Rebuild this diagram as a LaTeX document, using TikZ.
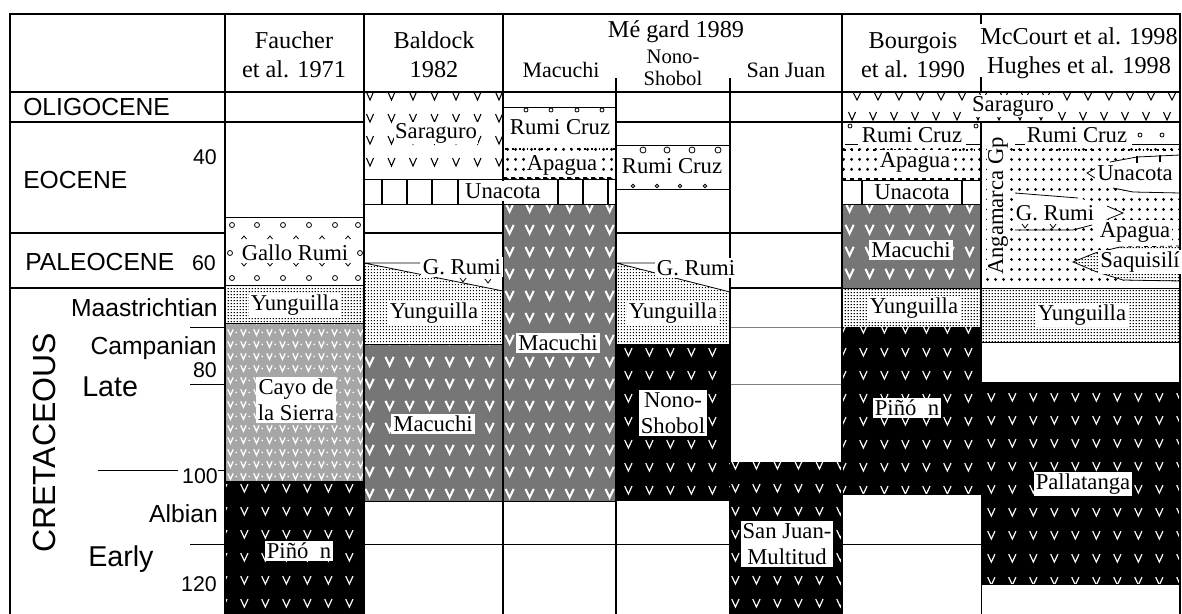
\documentclass[tikz,border=0pt]{standalone}
\usepackage{fontspec}
\setmainfont{Liberation Serif}
\newfontfamily\arial{Liberation Sans}
\usetikzlibrary{patterns}

\definecolor{macgray}{RGB}{118,118,118}
\definecolor{cayogray}{RGB}{166,166,166}

\pgfdeclarepatternformonly{vees}{\pgfqpoint{0pt}{0pt}}{\pgfqpoint{15pt}{16.5pt}}{\pgfqpoint{15pt}{16.5pt}}
{\pgfsetlinewidth{1.6pt}
 \pgfpathmoveto{\pgfqpoint{4.3pt}{11.8pt}}
 \pgfpathlineto{\pgfqpoint{7.5pt}{5pt}}
 \pgfpathlineto{\pgfqpoint{10.7pt}{11.8pt}}
 \pgfusepath{stroke}}
\pgfdeclarepatternformonly{thinvees}{\pgfqpoint{0pt}{0pt}}{\pgfqpoint{16pt}{17pt}}{\pgfqpoint{16pt}{17pt}}
{\pgfsetlinewidth{0.9pt}
 \pgfpathmoveto{\pgfqpoint{5.2pt}{11.3pt}}
 \pgfpathlineto{\pgfqpoint{8pt}{5.3pt}}
 \pgfpathlineto{\pgfqpoint{10.8pt}{11.3pt}}
 \pgfusepath{stroke}}
\pgfdeclarepatternformonly{dotvees}{\pgfqpoint{0pt}{0pt}}{\pgfqpoint{10pt}{9pt}}{\pgfqpoint{10pt}{9pt}}
{\pgfsetlinewidth{1pt}
 \pgfpathmoveto{\pgfqpoint{1.4pt}{7pt}}
 \pgfpathlineto{\pgfqpoint{3.5pt}{2.2pt}}
 \pgfpathlineto{\pgfqpoint{5.6pt}{7pt}}
 \pgfusepath{stroke}
 \pgfpathcircle{\pgfqpoint{8pt}{4.5pt}}{0.75pt}
 \pgfusepath{fill}}
\pgfdeclarepatternformonly{stipple}{\pgfqpoint{0pt}{0pt}}{\pgfqpoint{2.4pt}{2.4pt}}{\pgfqpoint{2.4pt}{2.4pt}}
{\pgfpathrectangle{\pgfqpoint{0.7pt}{0.7pt}}{\pgfqpoint{1pt}{1pt}}
 \pgfusepath{fill}}
\pgfdeclarepatternformonly{grit}{\pgfqpoint{0pt}{0pt}}{\pgfqpoint{6pt}{7.5pt}}{\pgfqpoint{6pt}{7.5pt}}
{\pgfpathcircle{\pgfqpoint{3pt}{3.75pt}}{1.3pt}
 \pgfusepath{fill}}

\begin{document}
\begin{tikzpicture}[x=0.75pt,y=-0.75pt,
  hline/.style={line width=1.5pt},
  fineline/.style={line width=0.6pt},
  vline/.style={line width=0.8pt},
  dotrow/.style={line width=1.4pt,dash pattern=on 1.4pt off 4pt},
  unit/.style={draw=black,line width=0.6pt},
  mac/.style={preaction={fill=macgray},pattern=vees,pattern color=white},
  pinon/.style={preaction={fill=black},pattern=thinvees,pattern color=white},
  cayo/.style={preaction={fill=cayogray},pattern=dotvees,pattern color=white},
  yung/.style={preaction={fill=white},pattern=stipple,pattern color=black},
  apag/.style={preaction={fill=white},pattern=grit,pattern color=black},
  hdr/.style={align=center,inner sep=0pt,font=\fontsize{18.2}{21.8}\selectfont},
  hdrs/.style={inner sep=0pt,font=\fontsize{16.5}{18}\selectfont},
  hdrn/.style={inner sep=0pt,anchor=base,font=\fontsize{15.5}{16}\selectfont},
  lbl/.style={fill=white,align=center,inner sep=1.5pt,font=\fontsize{17}{19.5}\selectfont},
  age/.style={inner sep=0pt,font=\arial\fontsize{18.5}{20}\selectfont},
  num/.style={inner sep=0pt,anchor=east,font=\arial\fontsize{16}{18}\selectfont},
  period/.style={inner sep=0pt,anchor=west,font=\arial\fontsize{21.5}{24}\selectfont}]
\useasboundingbox (0,0) rectangle (1182,614);

% time lines
\draw[hline] (10,122) -- (1180,122);
\draw[hline] (10,233) -- (842,233);
\draw[hline] (10,288) -- (1180,288);
\draw[fineline,gray] (730,327) -- (842,327) (730,384) -- (842,384);
\draw[fineline] (190,327) -- (225,327) (190,384) -- (225,384) (190,544) -- (225,544)
  (98,470) -- (178,470) (218,470) -- (225,470);
\draw[fineline] (364,544) -- (730,544) (842,544) -- (981,544);

% Faucher
\draw[unit,fill=white] (225,217) rectangle (364,285);
\foreach \x in {232,257,283,309,335,358}
  \draw[fineline] (\x,225) circle (2.5) (\x,278) circle (2.5);
\foreach \x in {244,270,296,322,348}
  \draw[fineline] (\x-2.5,239) -- (\x,236) -- (\x+2.5,239) (\x-2.5,263) -- (\x,266) -- (\x+2.5,263);
\draw[fineline] (230,253) circle (2.5) (360,253) circle (2.5);
\draw[unit,yung] (225,285) rectangle (364,323);
\draw[unit,cayo] (225,323) rectangle (364,481);
\path[pinon] (225,481) rectangle (364,614);

% Baldock
\path[fill=white] (364,92) rectangle (503,180);
\begin{scope}
  \clip (364,92) rectangle (503,180);
  \foreach \x in {370,391.5,...,505}
    \foreach \y in {96,118,140,162}
      \draw[vline] (\x-3.5,\y-4) -- (\x,\y+4) -- (\x+3.5,\y-4);
\end{scope}
\path[fill=white] (364,263) -- (503,263) -- (503,291) -- cycle;
\path[yung] (364,263) -- (503,291) -- (503,344) -- (364,344) -- cycle;
\draw[fineline] (364,263) -- (420,263) (364,263) -- (503,291);
\draw[fineline] (460,278) -- (463,282) -- (466,278) (485,279) -- (488,283) -- (491,279);
\draw[unit,mac] (364,344) rectangle (503,501);

% Megard, Macuchi
\draw[unit,fill=white] (503,107) rectangle (616,145);
\foreach \x in {526,551,577,602}
  \draw[fineline] (\x,110) circle (2);
\path[apag] (503,145) rectangle (616,179);
\draw[dotrow] (505,149) -- (616,149);
\draw[dashed,line width=1pt] (503,178) -- (616,178);
\draw[unit,fill=white] (364,179) rectangle (616,204);
\foreach \x in {382,407,432,458,558,583,608}
  \draw[hline] (\x,179) -- (\x,204);
\draw[unit,mac] (503,204) rectangle (616,501);

% Megard, Nono-Shobol
\draw[unit,fill=white] (616,145) rectangle (730,189);
\foreach \x in {643,667,692,718}
  \draw[fineline] (\x,150) circle (3);
\foreach \x in {633,657,680,705}
  \draw[fineline] (\x,186) circle (1.8);
\path[fill=white] (616,263) -- (730,263) -- (730,292) -- cycle;
\path[yung] (616,263) -- (730,292) -- (730,344) -- (616,344) -- cycle;
\draw[fineline] (616,263) -- (657,263) (616,263) -- (730,292);
\path[pinon] (616,344) rectangle (730,501);

% Megard, San Juan
\path[pinon] (730,462) rectangle (842,614);

% Bourgois
\draw[unit,fill=white] (842,92) rectangle (1180,122);
\foreach \x in {857,878,...,1180}
  \draw[vline] (\x-3.5,93) -- (\x,100) -- (\x+3.5,93);
\foreach \x in {852,873,...,1180}
  \draw[vline] (\x-3.5,112) -- (\x,120) -- (\x+3.5,112);
\draw[unit,fill=white] (842,122) rectangle (1180,148);
\draw[fineline] (845,144) -- (858,144) (966,144) -- (981,144)
  (1015,144) -- (1031,144) (1132,144) -- (1180,144);
\draw[fineline] (850,126) circle (2) (976,126) circle (2) (1140,135) circle (2) (1162,135) circle (2);
\path[apag] (842,148) rectangle (981,180);
\draw[dotrow] (844,150) -- (981,150);
\draw[dashed,line width=1pt] (842,179) -- (981,179);
\draw[unit,fill=white] (842,180) rectangle (981,204);
\draw[hline] (862,180) -- (862,204) (962,180) -- (962,204);
\draw[unit,mac] (842,204) rectangle (981,288);
\draw[unit,yung] (842,288) rectangle (981,327);
\path[pinon] (842,327) rectangle (981,494);
\draw[unit] (842,494) rectangle (981,614);

% McCourt, Hughes
\path[apag] (981,148) rectangle (1180,288);
\draw[dotrow] (1013,150) -- (1180,150);
\path[fill=white] (1087,173) -- (1110,162) -- (1137,157) -- (1180,155) -- (1180,193)
  -- (1133,192) -- (1113,188) -- cycle;
\draw[fineline] (1110,162) -- (1137,157) -- (1180,155) (1113,188) -- (1133,192) -- (1180,193)
  (1098,167) -- (1087,173) -- (1098,180);
\draw[hline] (1137,156) -- (1137,163) (1160,155) -- (1160,162);
\path[fill=white] (1013,193) -- (1078,198) -- (1107,206) -- (1123,213) -- (1108,219)
  -- (1090,225) -- (1013,230) -- cycle;
\draw[fineline] (1015,193) -- (1078,198) (1015,230) -- (1073,230) -- (1092,225)
  (1107,206) -- (1123,213) -- (1108,219);
\draw[fineline] (1022,224) -- (1025,228) -- (1028,224) (1050,224) -- (1053,228) -- (1056,224);
\path[yung] (1073,262) -- (1095,253) -- (1120,247) -- (1180,246) -- (1180,281)
  -- (1123,280) -- (1097,272) -- cycle;
\draw[fineline] (1120,247) -- (1095,253) -- (1073,262) -- (1097,272) -- (1123,280) -- (1180,281);
\draw[dashed,fineline] (1120,247) -- (1180,246);
\draw[unit,yung] (981,288) rectangle (1180,342);
\draw[unit,fill=white] (981,342) rectangle (1180,382);
\path[pinon] (981,382) rectangle (1180,584);
\draw[unit,fill=white] (981,584) rectangle (1180,614);

% columns and frame
\draw[hline] (225,14) -- (225,614) (364,14) -- (364,614) (503,14) -- (503,614) (842,14) -- (842,614);
\draw[hline] (616,78) -- (616,614) (730,78) -- (730,462) (730,501) -- (730,614);
\draw[hline] (981,14) -- (981,24) (981,77) -- (981,92) (981,122) -- (981,382);
\draw[fineline] (981,494) -- (981,614);
\draw[hline] (10,92) -- (1180,92) (842,122) -- (1180,122);
\draw[line width=2.2pt] (10,614) -- (10,14) -- (1180,14) -- (1180,614);

% headers
\node[hdr] (fau) at (294,55) {Faucher\\et al. 1971};
\node[hdr] (bal) at (434,55) {Baldock\\1982};
\node[hdr] (meg) at (676,32) {Mé gard 1989};
\node[hdrs] (hmac) at (561,70) {Macuchi};
\node[hdrn] (hnon) at (673,63) {Nono-};
\node[hdrn] (hsho) at (673,85) {Shobol};
\node[hdrs] (hsj) at (786,70) {San Juan};
\node[hdr] (bou) at (913,55) {Bourgois\\et al. 1990};
\node[hdr] (mcc) at (1079,53) {McCourt et al. 1998\\Hughes et al. 1998};

% time scale
\node[age,anchor=west] (oli) at (23,107) {OLIGOCENE};
\node[age,anchor=west] (eoc) at (23,180) {EOCENE};
\node[num] (n40) at (217,157) {40};
\node[age,anchor=west] (pal) at (25,262) {PALEOCENE};
\node[num] (n60) at (216,263) {60};
\node[age,anchor=east] (maa) at (218,308) {Maastrichtian};
\node[age,anchor=east] (cam) at (217,348) {Campanian};
\node[num] (n80) at (217,370) {80};
\node[period] (late) at (82,387) {Late};
\node[inner sep=0pt,rotate=90,font=\arial\fontsize{24}{26}\selectfont] (cre) at (44,443) {CRETACEOUS};
\node[num] (n100) at (218,476) {100};
\node[age,anchor=east] (alb) at (218,514) {Albian};
\node[period] (early) at (88,559) {Early};
\node[num] (n120) at (217,584) {120};

% units
\node[lbl] (gr1) at (295,253) {Gallo Rumi};
\node[lbl] (yu1) at (295,305) {Yunguilla};
\node[lbl] (cay) at (296,400) {Cayo de\\la Sierra};
\node[lbl] (pi1) at (299,551) {Piñó\hspace{.5em}n};
\node[lbl,inner sep=0.5pt] (sa1) at (436,133) {Saraguro};
\node[lbl] (un1) at (503,191) {Unacota};
\node[lbl] (gru1) at (462,267) {G. Rumi};
\node[lbl] (yu2) at (434,313) {Yunguilla};
\node[lbl] (ma1) at (433,424) {Macuchi};
\node[lbl] (rc1) at (560,127) {Rumi Cruz};
\node[lbl] (ap1) at (562,165) {Apagua};
\node[lbl] (ma2) at (558,343) {Macuchi};
\node[lbl] (rc2) at (672,166) {Rumi Cruz};
\node[lbl] (gru2) at (696,268) {G. Rumi};
\node[lbl] (yu3) at (673,313) {Yunguilla};
\node[lbl] (nos) at (673,413) {Nono-\\Shobol};
\node[lbl] (sjm) at (787,544) {San Juan-\\Multitud};
\node[lbl,inner sep=0.5pt] (sa2) at (1013,106) {Saraguro};
\node[lbl] (rc3) at (912,135) {Rumi Cruz};
\node[lbl] (ap2) at (915,162) {Apagua};
\node[lbl] (un2) at (912,192) {Unacota};
\node[lbl] (ma3) at (911,250) {Macuchi};
\node[lbl] (yu4) at (914,308) {Yunguilla};
\node[lbl] (pi2) at (907,408) {Piñó\hspace{.5em}n};
\node[lbl] (rc4) at (1077,135) {Rumi Cruz};
\node[lbl,rotate=90,inner sep=0.5pt] (ang) at (998,206) {Angamarca Gp};
\node[lbl] (un3) at (1135,173) {Unacota};
\node[lbl] (gru3) at (1055,213) {G. Rumi};
\node[lbl] (ap3) at (1135,232) {Apagua};
\node[lbl] (saq) at (1140,262) {Saquisilí};
\node[lbl] (yu5) at (1082,315) {Yunguilla};
\node[lbl] (pall) at (1083,484) {Pallatanga};
\end{tikzpicture}
\end{document}
